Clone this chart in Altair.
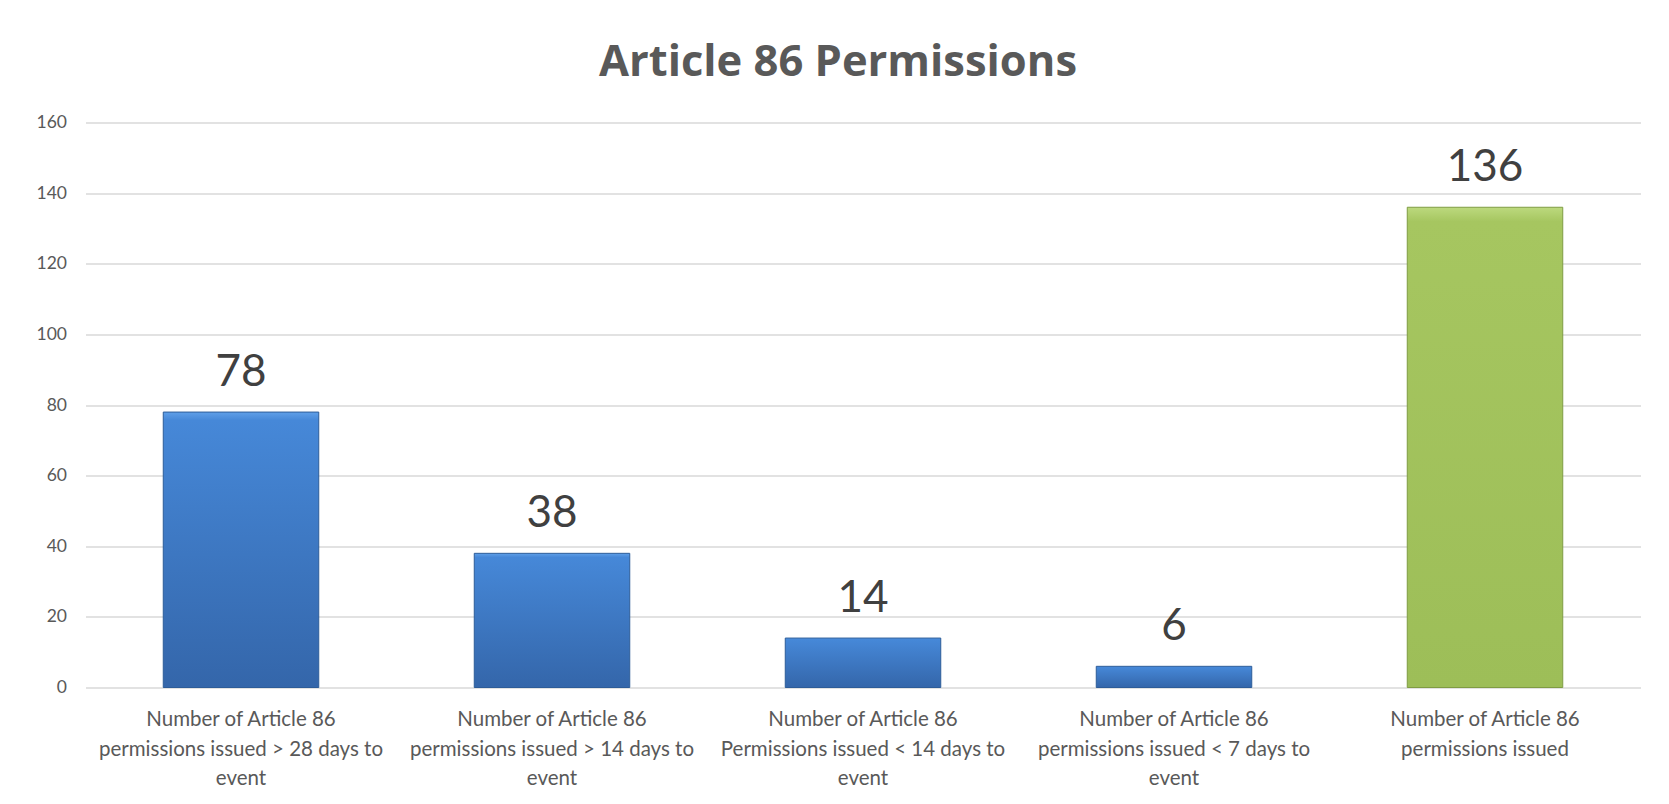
import altair as alt
import pandas as pd

categories = [
    "Number of Article 86|permissions issued > 28 days to|event",
    "Number of Article 86|permissions issued > 14 days to|event",
    "Number of Article 86|Permissions issued < 14 days to|event",
    "Number of Article 86|permissions issued < 7 days to|event",
    "Number of Article 86|permissions issued",
]
values = [78, 38, 14, 6, 136]
groups = ["blue", "blue", "blue", "blue", "green"]
y_ticks = [0, 20, 40, 60, 80, 100, 120, 140, 160]

df = pd.DataFrame({"category": categories, "value": values, "group": groups})

FONT = "Lato"

x_enc = alt.X(
    "category:N",
    sort=categories,
    title=None,
    scale=alt.Scale(paddingInner=0.5, paddingOuter=0.25),
    axis=alt.Axis(
        labelExpr="split(datum.label, '|')",
        labelAngle=0,
        labelFont=FONT,
        labelFontSize=20.5,
        labelColor="#595959",
        labelLineHeight=29.5,
        labelPadding=22,
        labelLimit=400,
        domain=False,
        ticks=False,
        grid=False,
    ),
)
y_enc = alt.Y(
    "value:Q",
    title=None,
    scale=alt.Scale(domain=[0, 160], nice=False),
    axis=alt.Axis(
        values=y_ticks,
        labelFont=FONT,
        labelFontSize=17.5,
        labelColor="#595959",
        labelPadding=19,
        domain=False,
        ticks=False,
        grid=True,
        gridColor="#d9d9d9",
        gridWidth=1.5,
    ),
)

blue_grad = alt.Gradient(
    gradient="linear",
    stops=[
        alt.GradientStop(color="#5f9fe8", offset=0),
        alt.GradientStop(color="#4688d8", offset=0.03),
        alt.GradientStop(color="#3466aa", offset=1),
    ],
    x1=0, x2=0, y1=0, y2=1,
)
green_grad = alt.Gradient(
    gradient="linear",
    stops=[
        alt.GradientStop(color="#bcd97e", offset=0),
        alt.GradientStop(color="#a6c660", offset=0.03),
        alt.GradientStop(color="#9dbe58", offset=1),
    ],
    x1=0, x2=0, y1=0, y2=1,
)

base = alt.Chart(df)

blue_bars = base.transform_filter(alt.datum.group == "blue").mark_bar(
    color=blue_grad, stroke="#2d5c98", strokeWidth=1
).encode(x=x_enc, y=y_enc)

green_bars = base.transform_filter(alt.datum.group == "green").mark_bar(
    color=green_grad, stroke="#7f9c43", strokeWidth=1
).encode(x=x_enc, y=y_enc)

labels = base.mark_text(
    font=FONT, fontSize=44, color="#404040", baseline="alphabetic", dy=-26
).encode(x=x_enc, y=y_enc, text="value:Q")

chart = (
    alt.layer(blue_bars, green_bars, labels)
    .properties(
        width=1555,
        height=565,
        autosize=alt.AutoSizeParams(type="none"),
        padding={"left": 77.5, "top": 114.5, "right": 20, "bottom": 100},
        title=alt.Title(
            "Article 86 Permissions",
            font="Open Sans",
            fontSize=43.5,
            fontWeight="bold",
            color="#595959",
            anchor="middle",
            baseline="alphabetic",
            offset=-6,
            dx=-25,
        ),
    )
    .configure(background="white")
    .configure_view(strokeWidth=0)
)

chart.save("out.html", embed_options={"renderer": "svg", "actions": False})
